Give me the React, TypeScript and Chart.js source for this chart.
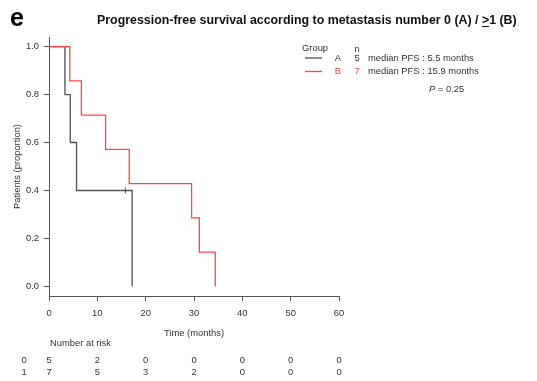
import React, { useEffect, useRef } from 'react';
import { Chart, registerables } from 'chart.js';
Chart.register(...registerables);

const TIME_A = [0, 3.3, 4.4, 5.7, 15.8, 17.2];
const SURV_A = [1, 0.8, 0.6, 0.4, 0.4, 0];
const CENSOR_A_TIME = [15.8];
const CENSOR_A_SURV = [0.4];
const TIME_B = [0, 4.3, 6.7, 11.7, 16.6, 29.5, 31.1, 34.4];
const SURV_B = [1, 0.857, 0.714, 0.571, 0.429, 0.286, 0.143, 0];
const X_TICKS = [0, 10, 20, 30, 40, 50, 60];
const Y_TICKS = [0, 0.2, 0.4, 0.6, 0.8, 1.0];
const RISK_TIMES = [0, 10, 20, 30, 40, 50, 60];
const RISK_A = [5, 2, 0, 0, 0, 0, 0];
const RISK_B = [7, 5, 3, 2, 0, 0, 0];
const RISK_LABELS = ['0', '1'];
const GROUPS = ['A', 'B'];
const GROUP_N = [5, 7];
const MEDIAN_PFS = ['5.5', '15.9'];
const P_VALUE = '0.25';

const COLOR_A = '#505050';
const COLOR_B = '#ff4545';
const TEXT = '#333333';
const FONT = 'Liberation Sans, Arial, sans-serif';

const textPlugin = {
  id: 'kmText',
  afterDraw(chart: any) {
    const ctx = chart.ctx;
    const xs = chart.scales.x;
    ctx.save();
    // panel letter
    ctx.fillStyle = '#000';
    ctx.font = `bold 25px ${FONT}`;
    ctx.textBaseline = 'alphabetic';
    ctx.textAlign = 'left';
    ctx.fillText('e', 10, 25.5);
    // title
    ctx.font = `bold 12.4px ${FONT}`;
    ctx.fillStyle = '#111';
    const parts = ['Progression-free survival according to metastasis number 0 (A) / ', '>', '1 (B)'];
    let tx = 97;
    const ty = 24;
    parts.forEach((p, i) => {
      ctx.fillText(p, tx, ty);
      const w = ctx.measureText(p).width;
      if (i === 1) {
        ctx.strokeStyle = '#111';
        ctx.lineWidth = 1;
        ctx.beginPath();
        ctx.moveTo(tx, ty + 2.5);
        ctx.lineTo(tx + w, ty + 2.5);
        ctx.stroke();
      }
      tx += w;
    });
    // legend
    ctx.font = `9.4px ${FONT}`;
    ctx.fillStyle = TEXT;
    ctx.textBaseline = 'middle';
    ctx.fillText('Group', 302, 48);
    ctx.textAlign = 'center';
    ctx.fillText('n', 357, 49);
    const colors = [COLOR_A, COLOR_B];
    GROUPS.forEach((g, i) => {
      const y = 58 + i * 13.5;
      ctx.strokeStyle = colors[i];
      ctx.lineWidth = 1.3;
      ctx.beginPath();
      ctx.moveTo(305, y);
      ctx.lineTo(322, y);
      ctx.stroke();
      ctx.fillStyle = i === 0 ? TEXT : COLOR_B;
      ctx.textAlign = 'center';
      ctx.fillText(g, 338, y);
      ctx.fillText(String(GROUP_N[i]), 357, y);
      ctx.fillStyle = TEXT;
      ctx.textAlign = 'left';
      ctx.fillText(`median PFS : ${MEDIAN_PFS[i]} months`, 368, y);
    });
    ctx.font = `italic 9.4px ${FONT}`;
    ctx.textAlign = 'left';
    ctx.fillText('P', 429, 89);
    const pw = ctx.measureText('P').width;
    ctx.font = `9.4px ${FONT}`;
    ctx.fillText(` = ${P_VALUE}`, 429 + pw, 89);
    // number at risk
    ctx.fillText('Number at risk', 50, 343);
    const rows = [RISK_A, RISK_B];
    rows.forEach((row, r) => {
      const y = 360 + r * 12;
      ctx.textAlign = 'center';
      ctx.fillText(RISK_LABELS[r], 24, y);
      row.forEach((v, j) => {
        ctx.fillText(String(v), xs.getPixelForValue(RISK_TIMES[j]), y);
      });
    });
    ctx.restore();
  },
};

export default function App() {
  const ref = useRef<HTMLCanvasElement>(null);
  useEffect(() => {
    if (!ref.current) return;
    const chart = new Chart(ref.current, {
      type: 'scatter',
      data: {
        datasets: [
          {
            label: 'B',
            data: TIME_B.map((t, i) => ({ x: t, y: SURV_B[i] })),
            showLine: true,
            stepped: 'before',
            borderColor: COLOR_B,
            borderWidth: 1.3,
            pointRadius: 0,
            fill: false,
          },
          {
            label: 'A censored',
            data: CENSOR_A_TIME.map((t, i) => ({ x: t, y: CENSOR_A_SURV[i] })),
            showLine: false,
            pointStyle: 'line',
            rotation: 90,
            pointRadius: 3,
            borderColor: COLOR_A,
            borderWidth: 1,
          },
          {
            label: 'A',
            data: TIME_A.map((t, i) => ({ x: t, y: SURV_A[i] })),
            showLine: true,
            stepped: 'before',
            borderColor: COLOR_A,
            borderWidth: 1.3,
            pointRadius: 0,
            fill: false,
          },
        ],
      },
      options: {
        responsive: false,
        animation: false,
        layout: { padding: { left: 0, right: 198, top: 37, bottom: 0 } },
        plugins: { legend: { display: false }, tooltip: { enabled: false }, title: { display: false } },
        scales: {
          x: {
            type: 'linear',
            min: 0,
            max: 60,
            afterBuildTicks: (s: any) => { s.ticks = X_TICKS.map((v) => ({ value: v })); },
            afterFit: (s: any) => { s.height = 85; },
            grid: { drawOnChartArea: false, drawTicks: true, tickLength: 5, color: '#555' },
            border: { display: true, color: '#555', width: 1 },
            ticks: { color: TEXT, font: { family: FONT, size: 9.4 }, padding: 7, maxRotation: 0, autoSkip: false },
            title: { display: true, text: 'Time (months)', color: TEXT, font: { family: FONT, size: 9.4 }, padding: 42 },
          },
          y: {
            type: 'linear',
            min: -0.04,
            max: 1.04,
            afterBuildTicks: (s: any) => { s.ticks = Y_TICKS.map((v) => ({ value: v })); },
            afterFit: (s: any) => { s.width = 49; },
            grid: { drawOnChartArea: false, drawTicks: true, tickLength: 5, color: '#555' },
            border: { display: true, color: '#555', width: 1 },
            ticks: { color: TEXT, font: { family: FONT, size: 9.4 }, padding: 5, callback: (v: any) => Number(v).toFixed(1) },
            title: { display: true, text: 'Patients (proportion)', color: TEXT, font: { family: FONT, size: 9.4 }, padding: 12 },
          },
        },
      },
      plugins: [textPlugin],
    } as any);
    return () => chart.destroy();
  }, []);
  return (
    <div style={{ position: 'fixed', left: 0, top: 0, width: 537, height: 381, background: '#fff' }}>
      <canvas ref={ref} width={537} height={381} style={{ width: 537, height: 381 }} />
    </div>
  );
}
